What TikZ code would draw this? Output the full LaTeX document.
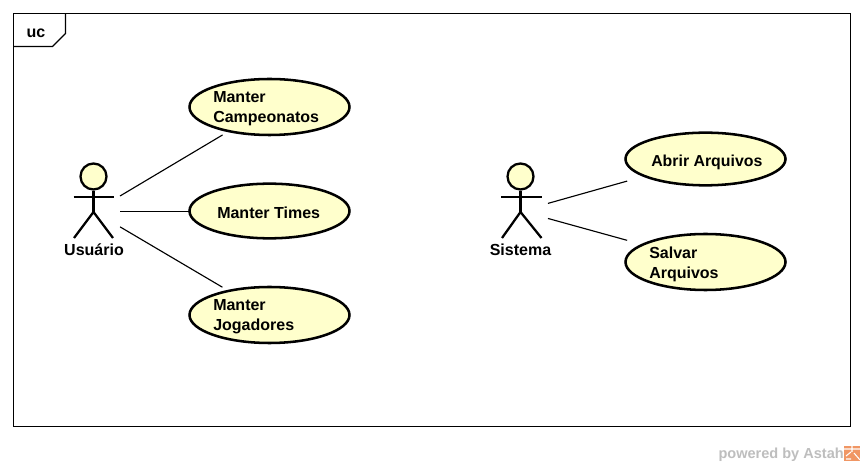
\documentclass[tikz,border=0pt]{standalone}
\usepackage{fontspec}
\setmainfont{Liberation Sans}
\usetikzlibrary{shapes.geometric}
\definecolor{ucfill}{RGB}{255,255,204}
\definecolor{astahgray}{RGB}{190,190,190}
\definecolor{astahorange}{RGB}{240,150,100}
\tikzset{
  px/.style={x=0.75pt,y=-0.75pt},
  usecase/.style={ellipse,draw=black,fill=ucfill,line width=1.9pt,minimum width=120pt,inner sep=0pt,outer sep=0pt},
  uctext/.style={font=\bfseries\fontsize{12}{15}\selectfont,inner sep=0pt,align=left,anchor=west},
  actorlabel/.style={font=\bfseries\fontsize{12}{15}\selectfont,inner sep=0pt,anchor=base},
  actorline/.style={draw=black,line width=1.7pt},
  assoc/.style={draw=black,line width=0.85pt},
  actorhead/.style={circle,draw=black,fill=ucfill,line width=1.7pt,minimum size=19.5pt,inner sep=0pt},
}
\begin{document}
\begin{tikzpicture}[px]
\useasboundingbox (0,0) rectangle (864,466);
\fill[white] (0,0) rectangle (864,466);
% frame
\node[draw=black,line width=0.85pt,minimum width=627.75pt,minimum height=309.75pt,inner sep=0pt,outer sep=0pt] (frame) at (432,220) {};
\coordinate (tagA) at (65.5,13.5);
\coordinate (tagB) at (65.5,33.5);
\coordinate (tagC) at (52.5,46.5);
\coordinate (tagD) at (13.5,46.5);
\draw[black,line width=0.8pt] (tagA) -- (tagB) -- (tagC) -- (tagD);
\node[actorlabel] (uc) at (36,37.7) {uc};
% actors
\coordinate (usuario) at (94,211.5);
\coordinate (sistema) at (521,211);
% use cases
\node[usecase,minimum height=42pt] (camp) at (269.5,107) {};
\node[usecase,minimum height=41pt] (times) at (269.5,211) {};
\node[usecase,minimum height=42pt] (jog) at (269.5,315) {};
\node[usecase,minimum height=39.5pt] (abrir) at (705.5,159) {};
\node[usecase,minimum height=42pt] (salvar) at (705.5,262) {};
\node[uctext] (tcamp) at (213,109) {Manter\\Campeonatos};
\node[uctext] (ttimes) at (217,212.5) {Manter Times};
\node[uctext] (tjog) at (213,317) {Manter\\Jogadores};
\node[uctext,font=\bfseries\fontsize{11.9}{15}\selectfont] (tabrir) at (651,162) {Abrir Arquivos};
\node[uctext] (tsalvar) at (649,264) {Salvar\\Arquivos};
% connectors
\draw[assoc,shorten <=19.5pt] (usuario) -- (times.west |- usuario);
\draw[assoc,shorten <=22.7pt,shorten >=41pt] (usuario) -- (camp.center);
\draw[assoc,shorten <=22.7pt,shorten >=41pt] (usuario) -- (jog.center);
\draw[assoc,shorten <=21pt,shorten >=61pt] (sistema) -- (abrir.center);
\draw[assoc,shorten <=21pt,shorten >=61pt] (sistema) -- (salvar.center);
% Usuario figure
\node[actorhead] (uhead) at (93.5,176.5) {};
\draw[actorline] (uhead.south) -- (93.5,212) coordinate (uhip);
\draw[actorline] (73.5,197) -- (114,197);
\draw[actorline] (74,238) -- (uhip) -- (113,238);
\node[actorlabel] (lusuario) at (94,256) {Usuário};
% Sistema figure
\node[actorhead] (shead) at (520.5,176.5) {};
\draw[actorline] (shead.south) -- (520.5,212) coordinate (ship);
\draw[actorline] (501,197) -- (541.5,197);
\draw[actorline] (502,238) -- (ship) -- (541.5,238);
\node[actorlabel] (lsistema) at (520.5,256) {Sistema};
% watermark
\node[font=\bfseries\fontsize{10.9}{12}\selectfont,text=astahgray,inner sep=0pt,anchor=base east] (wm) at (844,459) {powered by Astah};
\fill[astahorange] (844,446) rectangle (860,461);
\draw[white,line width=0.8pt] (844,449) -- (860,449) (852,446) -- (852,452) (846,456) -- (851,452) (851,459) -- (846,459) (854,453) -- (860,460);
\end{tikzpicture}
\end{document}
